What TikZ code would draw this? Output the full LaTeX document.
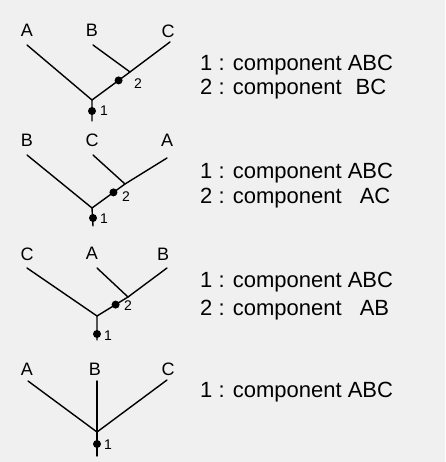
\documentclass[tikz,border=0pt]{standalone}
\usepackage{fontspec}
\setmainfont{Liberation Sans}
\usetikzlibrary{calc}
\begin{document}
\begin{tikzpicture}[x=1pt,y=-1pt,
  edge/.style={line width=1.4pt,line cap=round},
  lab/.style={inner sep=0pt,font=\fontsize{18}{18}\selectfont},
  num/.style={inner sep=0pt,font=\fontsize{14}{14}\selectfont,anchor=west},
  desc/.style={inner sep=0pt,anchor=west,font=\fontsize{22}{22}\selectfont},
  dot/.style={circle,fill=black,inner sep=0pt,minimum size=8pt}]
\fill[black!6] (0,0) rectangle (445,462);
\useasboundingbox (0,0) rectangle (445,462);
% ---------- tree 1 ----------
\node[lab] (la1) at (27,30) {A};
\node[lab] (lb1) at (92,30) {B};
\node[lab] (lc1) at (168,31) {C};
\coordinate (a1) at (27,45);
\coordinate (b1) at (93,45);
\coordinate (c1) at (170,42);
\coordinate (j1) at (130,72);
\coordinate (r1) at (92,100);
\coordinate (e1) at (92,121);
\draw[edge] (a1) -- (r1);
\draw[edge] (b1) -- (j1);
\draw[edge] (c1) -- (j1) -- (r1) -- (e1);
\node[dot] (d12) at ($(j1)!0.3!(r1)$) {};
\node[dot] (d11) at (92,111) {};
\node[num] (n12) at (134,84) {2};
\node[num] (n11) at (100,111) {1};
\node[desc] (t11) at (200,65) {1 : component ABC};
\node[desc] (t12) at (200,89) {2 : component \hspace{8pt}BC};
% ---------- tree 2 ----------
\node[lab] (la2) at (27,140) {B};
\node[lab] (lb2) at (92,140) {C};
\node[lab] (lc2) at (167,140) {A};
\coordinate (a2) at (27,155);
\coordinate (b2) at (93,155);
\coordinate (c2) at (167,158);
\coordinate (j2) at (125,184);
\coordinate (r2) at (92,208);
\coordinate (e2) at (93,226);
\draw[edge] (a2) -- (r2);
\draw[edge] (b2) -- (j2);
\draw[edge] (c2) -- (j2) -- (r2) -- (e2);
\node[dot] (d22) at ($(j2)!0.35!(r2)$) {};
\node[dot] (d21) at (93,218) {};
\node[num] (n22) at (122,197) {2};
\node[num] (n21) at (100,219) {1};
\node[desc] (t21) at (200,173) {1 : component ABC};
\node[desc] (t22) at (200,198) {2 : component \hspace{12pt}AC};
% ---------- tree 3 ----------
\node[lab] (la3) at (27,254) {C};
\node[lab] (lb3) at (92,253) {A};
\node[lab] (lc3) at (163,254) {B};
\coordinate (a3) at (27,268);
\coordinate (b3) at (97,268);
\coordinate (c3) at (167,268);
\coordinate (j3) at (128,297);
\coordinate (r3) at (97,316);
\coordinate (e3) at (97,340);
\draw[edge] (a3) -- (r3);
\draw[edge] (b3) -- (j3);
\draw[edge] (c3) -- (j3) -- (r3) -- (e3);
\node[dot] (d32) at ($(j3)!0.4!(r3)$) {};
\node[dot] (d31) at (97,334) {};
\node[num] (n32) at (124,306) {2};
\node[num] (n31) at (104,336) {1};
\node[desc] (t31) at (200,282) {1 : component ABC};
\node[desc] (t32) at (200,310) {2 : component \hspace{12pt}AB};
% ---------- tree 4 ----------
\node[lab] (la4) at (27,369) {A};
\node[lab] (lb4) at (95,369) {B};
\node[lab] (lc4) at (168,369) {C};
\coordinate (a4) at (28,381);
\coordinate (b4) at (97,381);
\coordinate (c4) at (167,380);
\coordinate (r4) at (97,432);
\coordinate (e4) at (97,456);
\draw[edge] (a4) -- (r4);
\draw[edge] (c4) -- (r4);
\draw[edge] (b4) -- (r4) -- (e4);
\node[dot] (d41) at (97,444) {};
\node[num] (n41) at (104,445) {1};
\node[desc] (t41) at (200,392) {1 : component ABC};
\end{tikzpicture}
\end{document}
